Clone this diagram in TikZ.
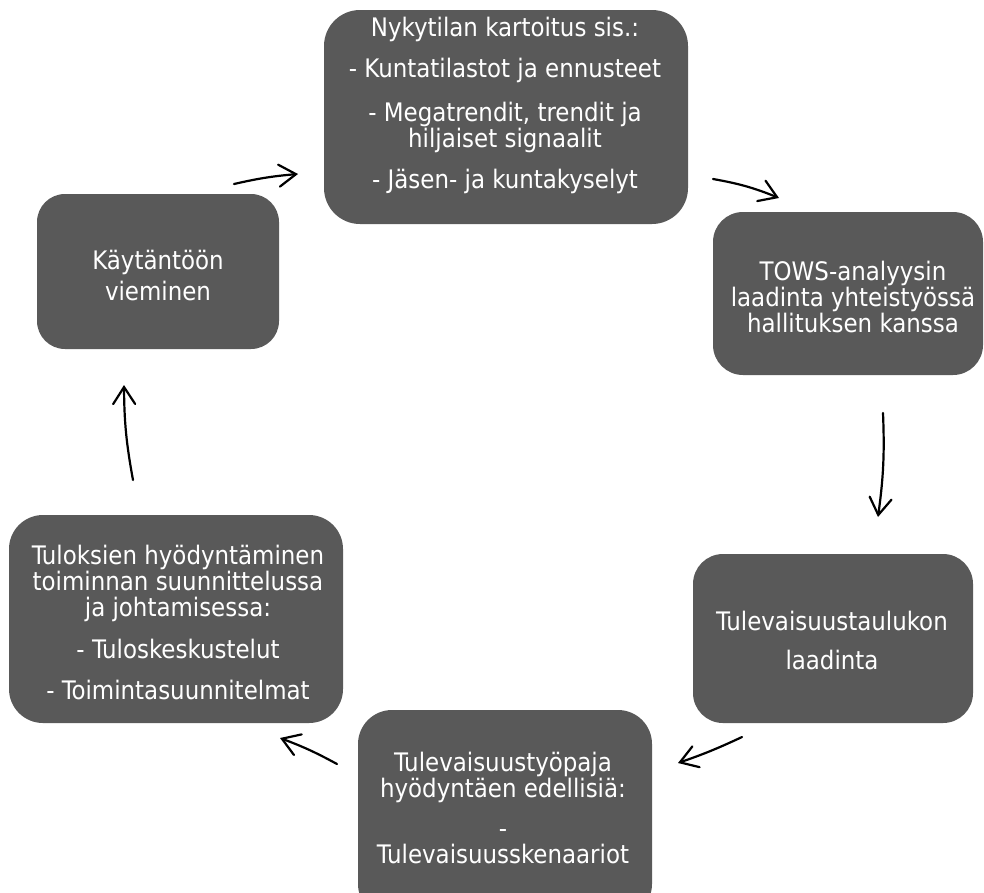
\documentclass[tikz,border=0pt]{standalone}
\usepackage{fontspec}
\setmainfont{DejaVu Sans Condensed}
\usetikzlibrary{arrows.meta}
\definecolor{boxgray}{HTML}{595959}
\tikzset{
  card/.style={fill=boxgray, draw=none, rounded corners=#1, inner sep=0pt},
  card/.default=30pt,
  txt/.style={text=white, align=center, inner sep=0pt, font=\fontsize{25.5}{26}\selectfont},
  flow/.style={line width=2.2pt, line cap=round, -{Straight Barb[length=17pt,width=22pt,line cap=round]}}
}
\begin{document}
\begin{tikzpicture}[x=1pt,y=1pt]
\useasboundingbox (0,0) rectangle (984,-892);
\clip (0,0) rectangle (984,-892);
% boxes
\node[card=36pt, minimum width=364pt, minimum height=214pt] (n1) at (506,-117) {};
\node[card=30pt, minimum width=270pt, minimum height=163pt] (n2) at (848,-293.5) {};
\node[card=30pt, minimum width=280pt, minimum height=169pt] (n3) at (833,-638.5) {};
\node[card=34pt, minimum width=294pt, minimum height=208pt] (n4) at (505,-814) {};
\node[card=34pt, minimum width=334pt, minimum height=208pt] (n5) at (176,-619) {};
\node[card=28pt, minimum width=242pt, minimum height=155pt] (n6) at (158,-271.5) {};
% texts
\node[txt] (t1) at (505,-105) {Nykytilan kartoitus sis.:\\[15pt]- Kuntatilastot ja ennusteet\\[18pt]- Megatrendit, trendit ja\\hiljaiset signaalit\\[15pt]- Jäsen- ja kuntakyselyt};
\node[txt] (t2) at (853,-297) {TOWS-analyysin\\laadinta yhteistyössä\\hallituksen kanssa};
\node[txt] (t3) at (832,-640) {Tulevaisuustaulukon\\[13pt]laadinta};
\node[txt] (t4) at (503,-808) {Tulevaisuustyöpaja\\hyödyntäen edellisiä:\\[14pt]-\\Tulevaisuusskenaariot};
\node[txt] (t5) at (178,-622) {Tuloksien hyödyntäminen\\toiminnan suunnittelussa\\ja johtamisessa:\\[16pt]- Tuloskeskustelut\\[15pt]- Toimintasuunnitelmat};
\node[txt] (t6) at (158,-276) {Käytäntöön\\[5pt]vieminen};
% connector ends
\coordinate (a1s) at (234,-184); \coordinate (a1e) at (298,-174);
\coordinate (a2s) at (713,-179); \coordinate (a2e) at (779,-198);
\coordinate (a3s) at (883,-413); \coordinate (a3e) at (878,-517);
\coordinate (a4s) at (742,-737); \coordinate (a4e) at (678,-763);
\coordinate (a5s) at (337,-764); \coordinate (a5e) at (280,-738);
\coordinate (a6s) at (133,-480); \coordinate (a6e) at (124,-385);
% connectors
\draw[flow] (a1s) to[bend left=4] (a1e);
\draw[flow] (a2s) to[bend left=6] (a2e);
\draw[flow] (a3s) to[bend left=5] (a3e);
\draw[flow] (a4s) to[bend left=3] (a4e);
\draw[flow] (a5s) to[bend right=4] (a5e);
\draw[flow] (a6s) to[bend left=5] (a6e);
\end{tikzpicture}
\end{document}
